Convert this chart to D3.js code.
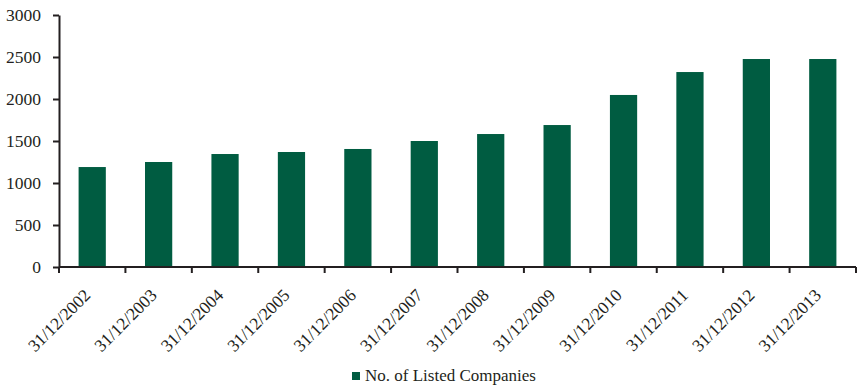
<!DOCTYPE html>
<html>
<head>
<meta charset="utf-8">
<script src="https://cdn.jsdelivr.net/npm/d3@7"></script>
<style>
  body { margin: 0; background: #fff; }
  svg { display: block; }
  text { font-family: "Liberation Serif", "Times New Roman", serif; fill: #231f20; }
</style>
</head>
<body>
<svg id="chart" width="857" height="387"></svg>
<script>
// chart data
var dates = ['31/12/2002', '31/12/2003', '31/12/2004', '31/12/2005', '31/12/2006', '31/12/2007',
             '31/12/2008', '31/12/2009', '31/12/2010', '31/12/2011', '31/12/2012', '31/12/2013'];
var listedCompanies = [1190, 1250, 1345, 1369, 1405, 1500, 1583, 1690, 2048, 2321, 2476, 2476];
var yTicks = [0, 500, 1000, 1500, 2000, 2500, 3000];
var seriesName = 'No. of Listed Companies';

var svg = d3.select('#chart');
var margin = { top: 15, right: 1, bottom: 120, left: 59 };
var width = 857 - margin.left - margin.right;
var height = 387 - margin.top - margin.bottom;
var barColor = '#005c41';
var axisColor = '#231f20';

var g = svg.append('g')
  .attr('transform', 'translate(' + margin.left + ',' + margin.top + ')');

var x = d3.scaleBand()
  .domain(dates)
  .range([0, width])
  .paddingInner(0.59)
  .paddingOuter(0.295);

var y = d3.scaleLinear()
  .domain([0, 3000])
  .range([height, 0]);

// bars
g.selectAll('rect.bar')
  .data(dates)
  .enter()
  .append('rect')
  .attr('class', 'bar')
  .attr('x', d => x(d))
  .attr('y', (d, i) => y(listedCompanies[i]))
  .attr('width', x.bandwidth())
  .attr('height', (d, i) => height - y(listedCompanies[i]))
  .attr('fill', barColor);

// y axis
g.append('g')
  .call(d3.axisLeft(y).tickValues(yTicks).tickSize(6).tickSizeOuter(0).tickFormat(d3.format('d')))
  .call(a => a.select('.domain').attr('stroke', axisColor).attr('stroke-width', 2))
  .call(a => a.selectAll('.tick line').attr('stroke', axisColor).attr('stroke-width', 2))
  .call(a => a.selectAll('.tick text')
    .attr('x', -18)
    .style('font-size', '17.5px')
    .style('font-family', '"Liberation Serif", serif')
    .attr('fill', axisColor));

// x axis: ticks at category boundaries
var boundaries = d3.range(dates.length + 1).map(i => i * width / dates.length);
var xAxis = g.append('g').attr('transform', 'translate(0,' + height + ')');
xAxis.append('line')
  .attr('x1', 0).attr('x2', width)
  .attr('stroke', axisColor).attr('stroke-width', 2);
xAxis.selectAll('line.tick')
  .data(boundaries)
  .enter()
  .append('line')
  .attr('class', 'tick')
  .attr('x1', d => d).attr('x2', d => d)
  .attr('y1', 0).attr('y2', 6)
  .attr('stroke', axisColor).attr('stroke-width', 2);

xAxis.selectAll('text.label')
  .data(dates)
  .enter()
  .append('text')
  .attr('class', 'label')
  .attr('transform', d => 'translate(' + (x(d) + x.bandwidth() / 2 - 5) + ',25) rotate(-45)')
  .attr('text-anchor', 'end')
  .attr('dy', '0.35em')
  .style('font-size', '17.5px')
  .text(d => d);

// legend
var legend = svg.append('g').attr('transform', 'translate(352,372)');
legend.append('rect')
  .attr('width', 8).attr('height', 8)
  .attr('fill', barColor);
legend.append('text')
  .attr('x', 13).attr('y', 9)
  .style('font-size', '17px')
  .text(seriesName);
</script>
</body>
</html>
